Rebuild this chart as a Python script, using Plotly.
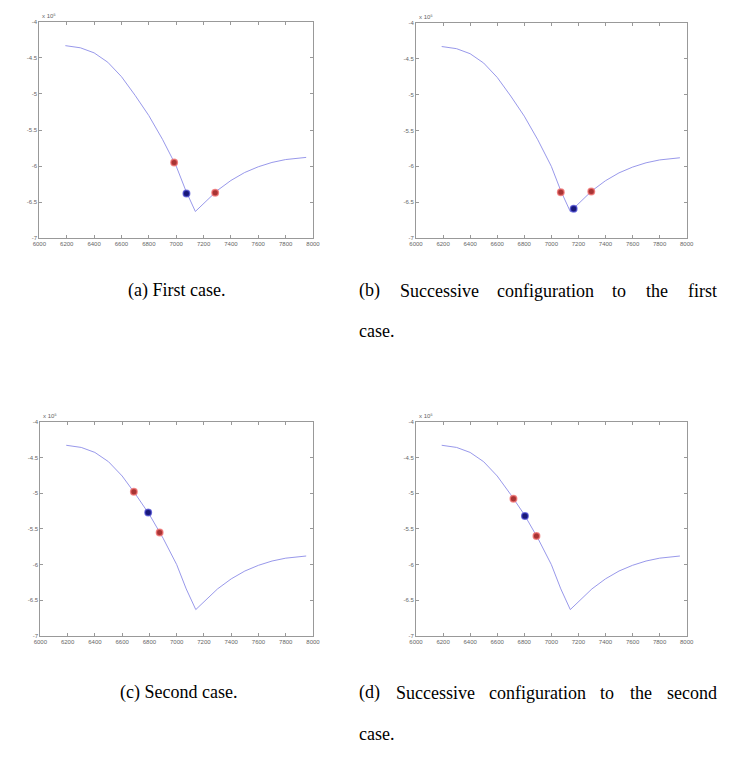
import plotly.graph_objects as go

W, H = 729, 769

# Objective curve (y values scaled by 1e5)
curve_x = [6190, 6300, 6400, 6500, 6600, 6700, 6800, 6900, 7000, 7070, 7140,
           7220, 7300, 7400, 7500, 7600, 7700, 7800, 7950]
curve_y = [-4.33, -4.36, -4.43, -4.56, -4.76, -5.02, -5.30, -5.63, -6.00, -6.34, -6.63,
           -6.49, -6.34, -6.20, -6.09, -6.01, -5.95, -5.91, -5.88]

# Bracketing points (red) and current point (blue) for each configuration
a_red_x, a_red_y = [6985, 7285], [-5.95, -6.37]
a_blue_x, a_blue_y = [7075], [-6.38]
b_red_x, b_red_y = [7070, 7295], [-6.36, -6.35]
b_blue_x, b_blue_y = [7165], [-6.59]
c_red_x, c_red_y = [6686, 6875], [-4.98, -5.55]
c_blue_x, c_blue_y = [6791], [-5.27]
d_red_x, d_red_y = [6720, 6890], [-5.08, -5.60]
d_blue_x, d_blue_y = [6805], [-5.32]

x_ticks = [6000, 6200, 6400, 6600, 6800, 7000, 7200, 7400, 7600, 7800, 8000]
y_ticks = [-7, -6.5, -6, -5.5, -5, -4.5, -4]
y_tick_text = ["-7", "-6.5", "-6", "-5.5", "-5", "-4.5", "-4"]

# Plot-area boxes in pixels: (left, top, right, bottom)
boxes = [(33, 19, 312, 237), (417, 20, 693, 237),
         (34, 422, 312, 638), (417, 422, 693, 638)]

panels = [(a_red_x, a_red_y, a_blue_x, a_blue_y),
          (b_red_x, b_red_y, b_blue_x, b_blue_y),
          (c_red_x, c_red_y, c_blue_x, c_blue_y),
          (d_red_x, d_red_y, d_blue_x, d_blue_y)]

fig = go.Figure()
layout = dict(width=W, height=H, margin=dict(l=0, r=0, t=0, b=0),
              plot_bgcolor="white", paper_bgcolor="white", showlegend=False)

annotations = []
tick_font = dict(family="Liberation Sans", size=6, color="#666666")

for i, ((l, t, r, b), (rx, ry, bx, by)) in enumerate(zip(boxes, panels), start=1):
    xa = "x" if i == 1 else f"x{i}"
    ya = "y" if i == 1 else f"y{i}"
    fig.add_trace(go.Scatter(x=curve_x, y=curve_y, mode="lines",
                             line=dict(color="#8c8ce8", width=0.9),
                             xaxis=xa, yaxis=ya))
    fig.add_trace(go.Scatter(x=rx, y=ry, mode="markers",
                             marker=dict(size=6.5, color="#a83434",
                                         line=dict(color="rgba(240,110,110,0.75)", width=1.5)),
                             xaxis=xa, yaxis=ya))
    fig.add_trace(go.Scatter(x=bx, y=by, mode="markers",
                             marker=dict(size=6.5, color="#181878",
                                         line=dict(color="rgba(70,70,210,0.7)", width=1.5)),
                             xaxis=xa, yaxis=ya))
    axis_common = dict(showgrid=False, zeroline=False, showline=True,
                       linecolor="#999999", linewidth=1, mirror="allticks",
                       ticks="inside", ticklen=3, tickcolor="#999999",
                       tickfont=tick_font)
    kx = "xaxis" if i == 1 else f"xaxis{i}"
    ky = "yaxis" if i == 1 else f"yaxis{i}"
    layout[kx] = dict(axis_common, domain=[l / W, r / W], anchor=ya,
                      range=[6000, 8000], tickvals=x_ticks,
                      ticktext=[str(v) for v in x_ticks])
    layout[ky] = dict(axis_common, domain=[1 - b / H, 1 - t / H], anchor=xa,
                      range=[-7, -4], tickvals=y_ticks, ticktext=y_tick_text)
    annotations.append(dict(xref="paper", yref="paper", x=(l + 1) / W, y=1 - (t - 1) / H,
                            xanchor="left", yanchor="bottom", showarrow=False,
                            text="x 10\u2075",
                            font=dict(family="Liberation Sans", size=6, color="#666666")))

cap_font = dict(family="Liberation Serif", size=18, color="black")


def word(x, y, s, anchor="left"):
    annotations.append(dict(xref="paper", yref="paper", x=x / W, y=1 - y / H,
                            xanchor=anchor, yanchor="middle", showarrow=False,
                            text=s, font=cap_font))


# Captions (justified lines are set word by word)
word(173, 290, "(a) First case.", "center")
word(175, 695, "(c) Second case.", "center")
for x, s in zip([357, 398.4, 497.8, 615.2, 649.6, 692],
                ["(b)", "Successive", "configuration", "to", "the", "first"]):
    word(x, 290, s)
word(357, 331, "case.")
for x, s in zip([357, 394.2, 489.4, 602.6, 632.8, 671],
                ["(d)", "Successive", "configuration", "to", "the", "second"]):
    word(x, 695, s)
word(357, 737, "case.")

layout["annotations"] = annotations
fig.update_layout(**layout)
fig.write_html("out.html")
